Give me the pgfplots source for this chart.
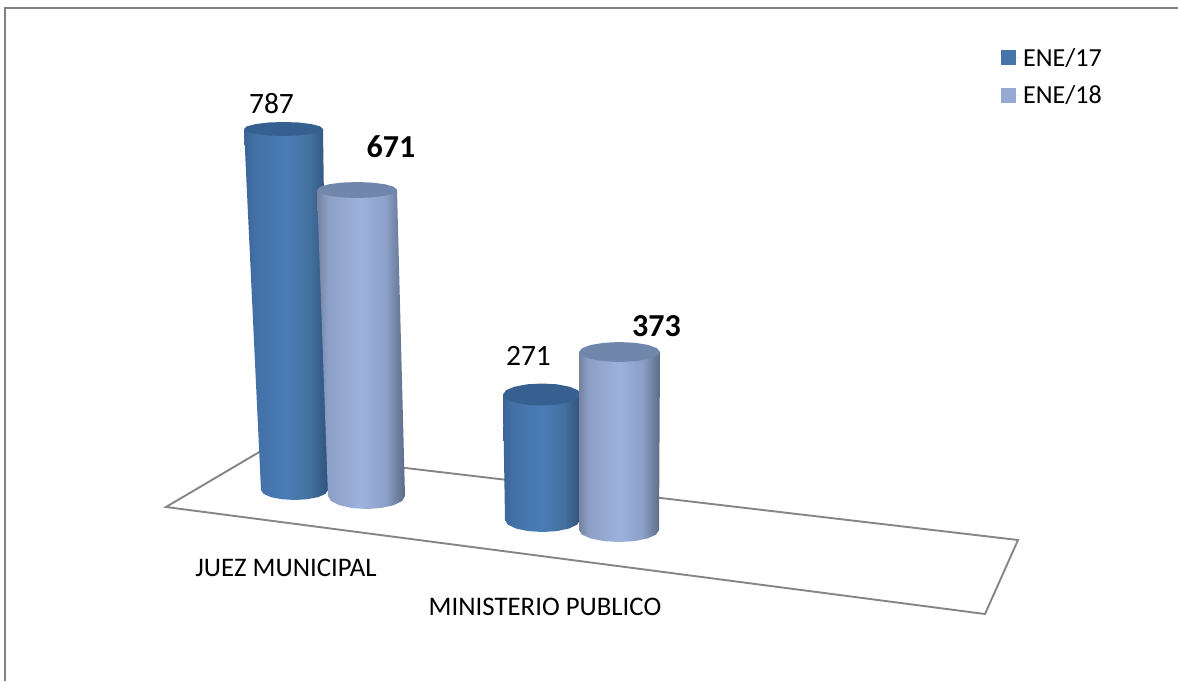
\documentclass[border=0pt]{standalone}
\usepackage{fontspec}
\setmainfont{Carlito}
\usepackage{pgfplots}
\pgfplotsset{compat=1.18}
\definecolor{dkTop}{HTML}{35608F}
\definecolor{ltTop}{HTML}{7087AB}
\definecolor{dkLeg}{HTML}{4673A8}
\definecolor{ltLeg}{HTML}{95A9D1}
\definecolor{dA}{HTML}{3A6496}
\definecolor{dB}{HTML}{4270A6}
\definecolor{dC}{HTML}{4A7CB6}
\definecolor{dD}{HTML}{44719F}
\definecolor{dE}{HTML}{2F527C}
\definecolor{lA}{HTML}{74829F}
\definecolor{lB}{HTML}{8D9FC6}
\definecolor{lC}{HTML}{9CB2DC}
\definecolor{lD}{HTML}{8CA0C9}
\definecolor{lE}{HTML}{5C6B86}
\pgfdeclarehorizontalshading{dkBody}{100bp}{
  color(0bp)=(dA); color(25bp)=(dA); color(31bp)=(dB); color(50bp)=(dC); color(64bp)=(dD); color(75bp)=(dE); color(100bp)=(dE)}
\pgfdeclarehorizontalshading{ltBody}{100bp}{
  color(0bp)=(lA); color(25bp)=(lA); color(31bp)=(lB); color(50bp)=(lC); color(64bp)=(lD); color(75bp)=(lE); color(100bp)=(lE)}
\begin{document}
\begin{tikzpicture}
\path[use as bounding box] (0,0) rectangle (1178pt,681pt);
\begin{axis}[
  at={(0pt,0pt)}, anchor=south west,
  scale only axis, width=1178pt, height=681pt,
  xmin=0, xmax=1178, ymin=0, ymax=681, y dir=reverse,
  hide axis, clip=false,
  legend style={at={(axis cs:1001,46)},anchor=north west,draw=none,fill=none,
    font=\fontsize{26}{28}\selectfont,row sep=14pt,inner sep=0pt},
  legend cell align=left,
  legend image code/.code={\path (0pt,0pt) -- (20pt,0pt);\fill[#1] (0pt,-7.5pt) rectangle (15pt,7.5pt);},
]
% frame
\addplot[forget plot,draw=black!50,line width=2pt] coordinates {(5.5,681) (5.5,7.5) (1178,7.5)};
% floor
\addplot[forget plot,draw=black!48,line width=1.9pt] coordinates {(261,451) (166,507) (985,614) (1018,540) (261,451)};
% Juez Municipal ENE/17 = 787
\addplot[forget plot,draw=none,shading=dkBody] coordinates {(244,129) (323,129) (328,490) (325.5,493.8) (318.2,497.1) (307.3,499.2) (294.5,500) (281.7,499.2) (270.8,497.1) (263.5,493.8) (261,490)} --cycle;
\addplot[forget plot,draw=none,fill=dkTop] coordinates {(323,129) (320,131.7) (311.4,133.9) (298.6,135.5) (283.5,136) (268.4,135.5) (255.6,133.9) (247,131.7) (244,129) (247,126.3) (255.6,124.1) (268.4,122.5) (283.5,122) (298.6,122.5) (311.4,124.1) (320,126.3)} --cycle;
% Juez Municipal ENE/18 = 671
\addplot[forget plot,draw=none,shading=ltBody] coordinates {(317,190) (397,190) (405,496) (402.1,501) (393.7,505.2) (381.2,508) (366.5,509) (351.8,508) (339.3,505.2) (330.9,501) (328,496)} --cycle;
\addplot[forget plot,draw=none,fill=ltTop] coordinates {(397,190) (394,193.1) (385.3,195.7) (372.3,197.4) (357,198) (341.7,197.4) (328.7,195.7) (320,193.1) (317,190) (320,186.9) (328.7,184.3) (341.7,182.6) (357,182) (372.3,182.6) (385.3,184.3) (394,186.9)} --cycle;
% Ministerio Publico ENE/17 = 271
\addplot[forget plot,draw=none,shading=dkBody] coordinates {(503,394.5) (581,394.5) (580,520) (577.2,524.6) (569,528.5) (556.9,531.1) (542.5,532) (528.1,531.1) (516,528.5) (507.8,524.6) (505,520)} --cycle;
\addplot[forget plot,draw=none,fill=dkTop] coordinates {(581,394.5) (578,398.7) (569.6,402.3) (556.9,404.7) (542,405.5) (527.1,404.7) (514.4,402.3) (506,398.7) (503,394.5) (506,390.3) (514.4,386.7) (527.1,384.3) (542,383.5) (556.9,384.3) (569.6,386.7) (578,390.3)} --cycle;
% Ministerio Publico ENE/18 = 373
\addplot[forget plot,draw=none,shading=ltBody] coordinates {(579,352) (660,352) (659,530) (656,534.6) (647.3,538.5) (634.3,541.1) (619,542) (603.7,541.1) (590.7,538.5) (582,534.6) (579,530)} --cycle;
\addplot[forget plot,draw=none,fill=ltTop] coordinates {(660,352) (656.9,355.8) (648.1,359.1) (635,361.2) (619.5,362) (604,361.2) (590.9,359.1) (582.1,355.8) (579,352) (582.1,348.2) (590.9,344.9) (604,342.8) (619.5,342) (635,342.8) (648.1,344.9) (656.9,348.2)} --cycle;
% data labels
\addplot[forget plot,draw=none,point meta=explicit symbolic,nodes near coords,
  every node near coord/.append style={anchor=center,inner sep=0pt,font=\fontsize{29.5}{31}\selectfont}]
  coordinates {(271.5,103.5) [787] (528.5,355.5) [271]};
\addplot[forget plot,draw=none,point meta=explicit symbolic,nodes near coords,
  every node near coord/.append style={anchor=center,inner sep=0pt,font=\fontsize{32}{33}\bfseries\selectfont}]
  coordinates {(391,146.5) [671] (656.5,326) [373]};
% category labels
\addplot[forget plot,draw=none,point meta=explicit symbolic,nodes near coords,
  every node near coord/.append style={anchor=center,inner sep=0pt,font=\fontsize{26.8}{28}\selectfont}]
  coordinates {(286,568) [JUEZ MUNICIPAL] (545,607) [MINISTERIO PUBLICO]};
% legend
\addplot[dkLeg,draw=none,fill=dkLeg] coordinates {(-50,-50)};
\addlegendentry{ENE/17}
\addplot[ltLeg,draw=none,fill=ltLeg] coordinates {(-50,-50)};
\addlegendentry{ENE/18}
\end{axis}
\end{tikzpicture}
\end{document}
